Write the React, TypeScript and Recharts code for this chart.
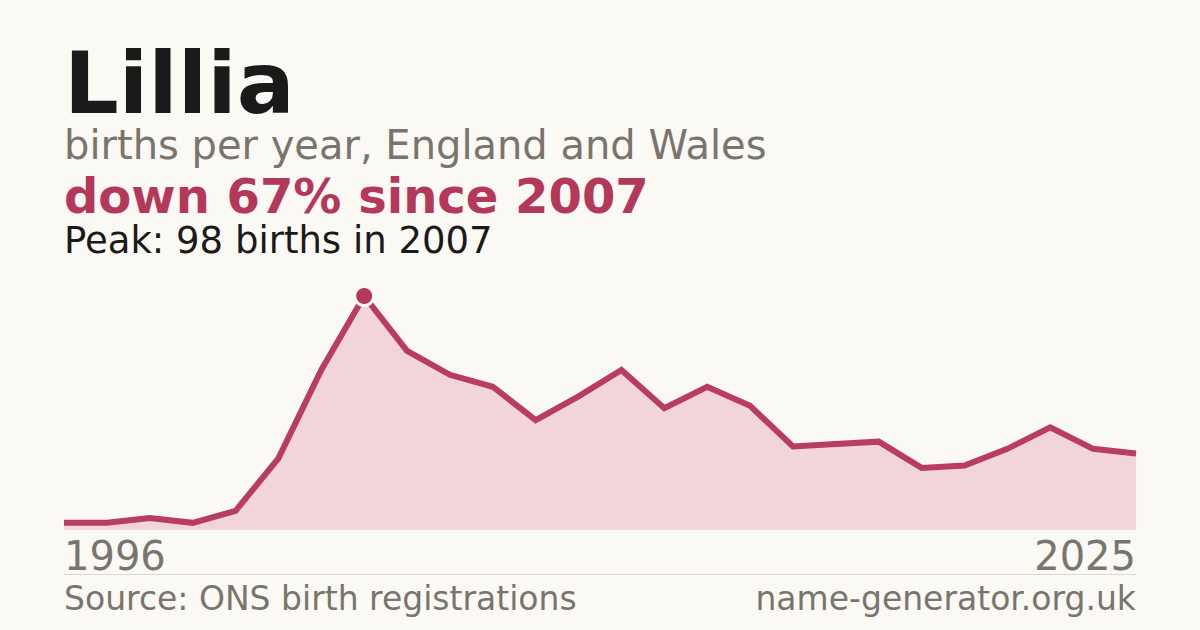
import { AreaChart, Area, XAxis, YAxis } from "recharts";

const years = [
  1996, 1999, 2001, 2003, 2004, 2005, 2006, 2007, 2008, 2009, 2010, 2011, 2012,
  2013, 2014, 2015, 2016, 2017, 2018, 2019, 2020, 2021, 2022, 2023, 2024, 2025,
];
const births = [
  3, 3, 5, 3, 8, 30, 67, 98, 75, 65, 60, 46, 56, 67, 51, 60, 52, 35, 36, 37, 26,
  27, 34, 43, 34, 32,
];
const tickYears = [1996, 2025];

const RED = "#b3385a";
const GREY = "#79756d";
const INK = "#1a1a1a";
const FONT = "DejaVu Sans, sans-serif";

const data = years.map((year, i) => ({ year, births: births[i] }));
const peak = Math.max(...births);

function YearTick(props: any) {
  const { x, y, payload } = props;
  const first = payload.value === tickYears[0];
  return (
    <text
      x={x}
      y={y + 32}
      textAnchor={first ? "start" : "end"}
      fill={GREY}
      fontSize={40}
      fontFamily={FONT}
    >
      {payload.value}
    </text>
  );
}

function PeakDot(props: any) {
  const { cx, cy, payload, index } = props;
  if (payload.births !== peak) return <g key={index} />;
  return (
    <circle
      key={index}
      cx={cx}
      cy={cy}
      r={9.5}
      fill={RED}
      stroke="#faf9f4"
      strokeWidth={3}
    />
  );
}

export default function App() {
  return (
    <div
      style={{
        position: "fixed",
        left: 0,
        top: 0,
        width: 1200,
        height: 630,
        background: "#faf9f4",
        fontFamily: FONT,
      }}
    >
      <AreaChart
        width={1200}
        height={630}
        data={data}
        margin={{ top: 296, right: 64, bottom: 0, left: 64 }}
      >
        <XAxis
          dataKey="year"
          ticks={tickYears}
          interval={0}
          axisLine={false}
          tickLine={false}
          tick={<YearTick />}
          height={100}
        />
        <YAxis hide domain={[0, "dataMax"]} />
        <Area
          type="linear"
          dataKey="births"
          stroke="#b83d60"
          strokeWidth={6}
          fill="#f2d5db"
          fillOpacity={1}
          dot={<PeakDot />}
          activeDot={false}
          isAnimationActive={false}
        />
      </AreaChart>
      <svg
        width={1200}
        height={630}
        style={{ position: "absolute", left: 0, top: 0, pointerEvents: "none" }}
      >
        <text x={64} y={113} fontSize={86} fontWeight="bold" fill={INK} fontFamily={FONT}>
          Lillia
        </text>
        <text x={64} y={159} fontSize={40} fill={GREY} fontFamily={FONT}>
          births per year, England and Wales
        </text>
        <text x={64} y={213} fontSize={48} fontWeight="bold" fill={RED} fontFamily={FONT}>
          down 67% since 2007
        </text>
        <text x={64} y={253} fontSize={37} fill={INK} fontFamily={FONT}>
          Peak: 98 births in 2007
        </text>
        <line x1={64} x2={1136} y1={574.5} y2={574.5} stroke="#dcd9d2" strokeWidth={1} />
        <text x={64} y={610} fontSize={33} fill={GREY} fontFamily={FONT}>
          Source: ONS birth registrations
        </text>
        <text x={1136} y={610} fontSize={33} fill={GREY} fontFamily={FONT} textAnchor="end">
          name-generator.org.uk
        </text>
      </svg>
    </div>
  );
}
